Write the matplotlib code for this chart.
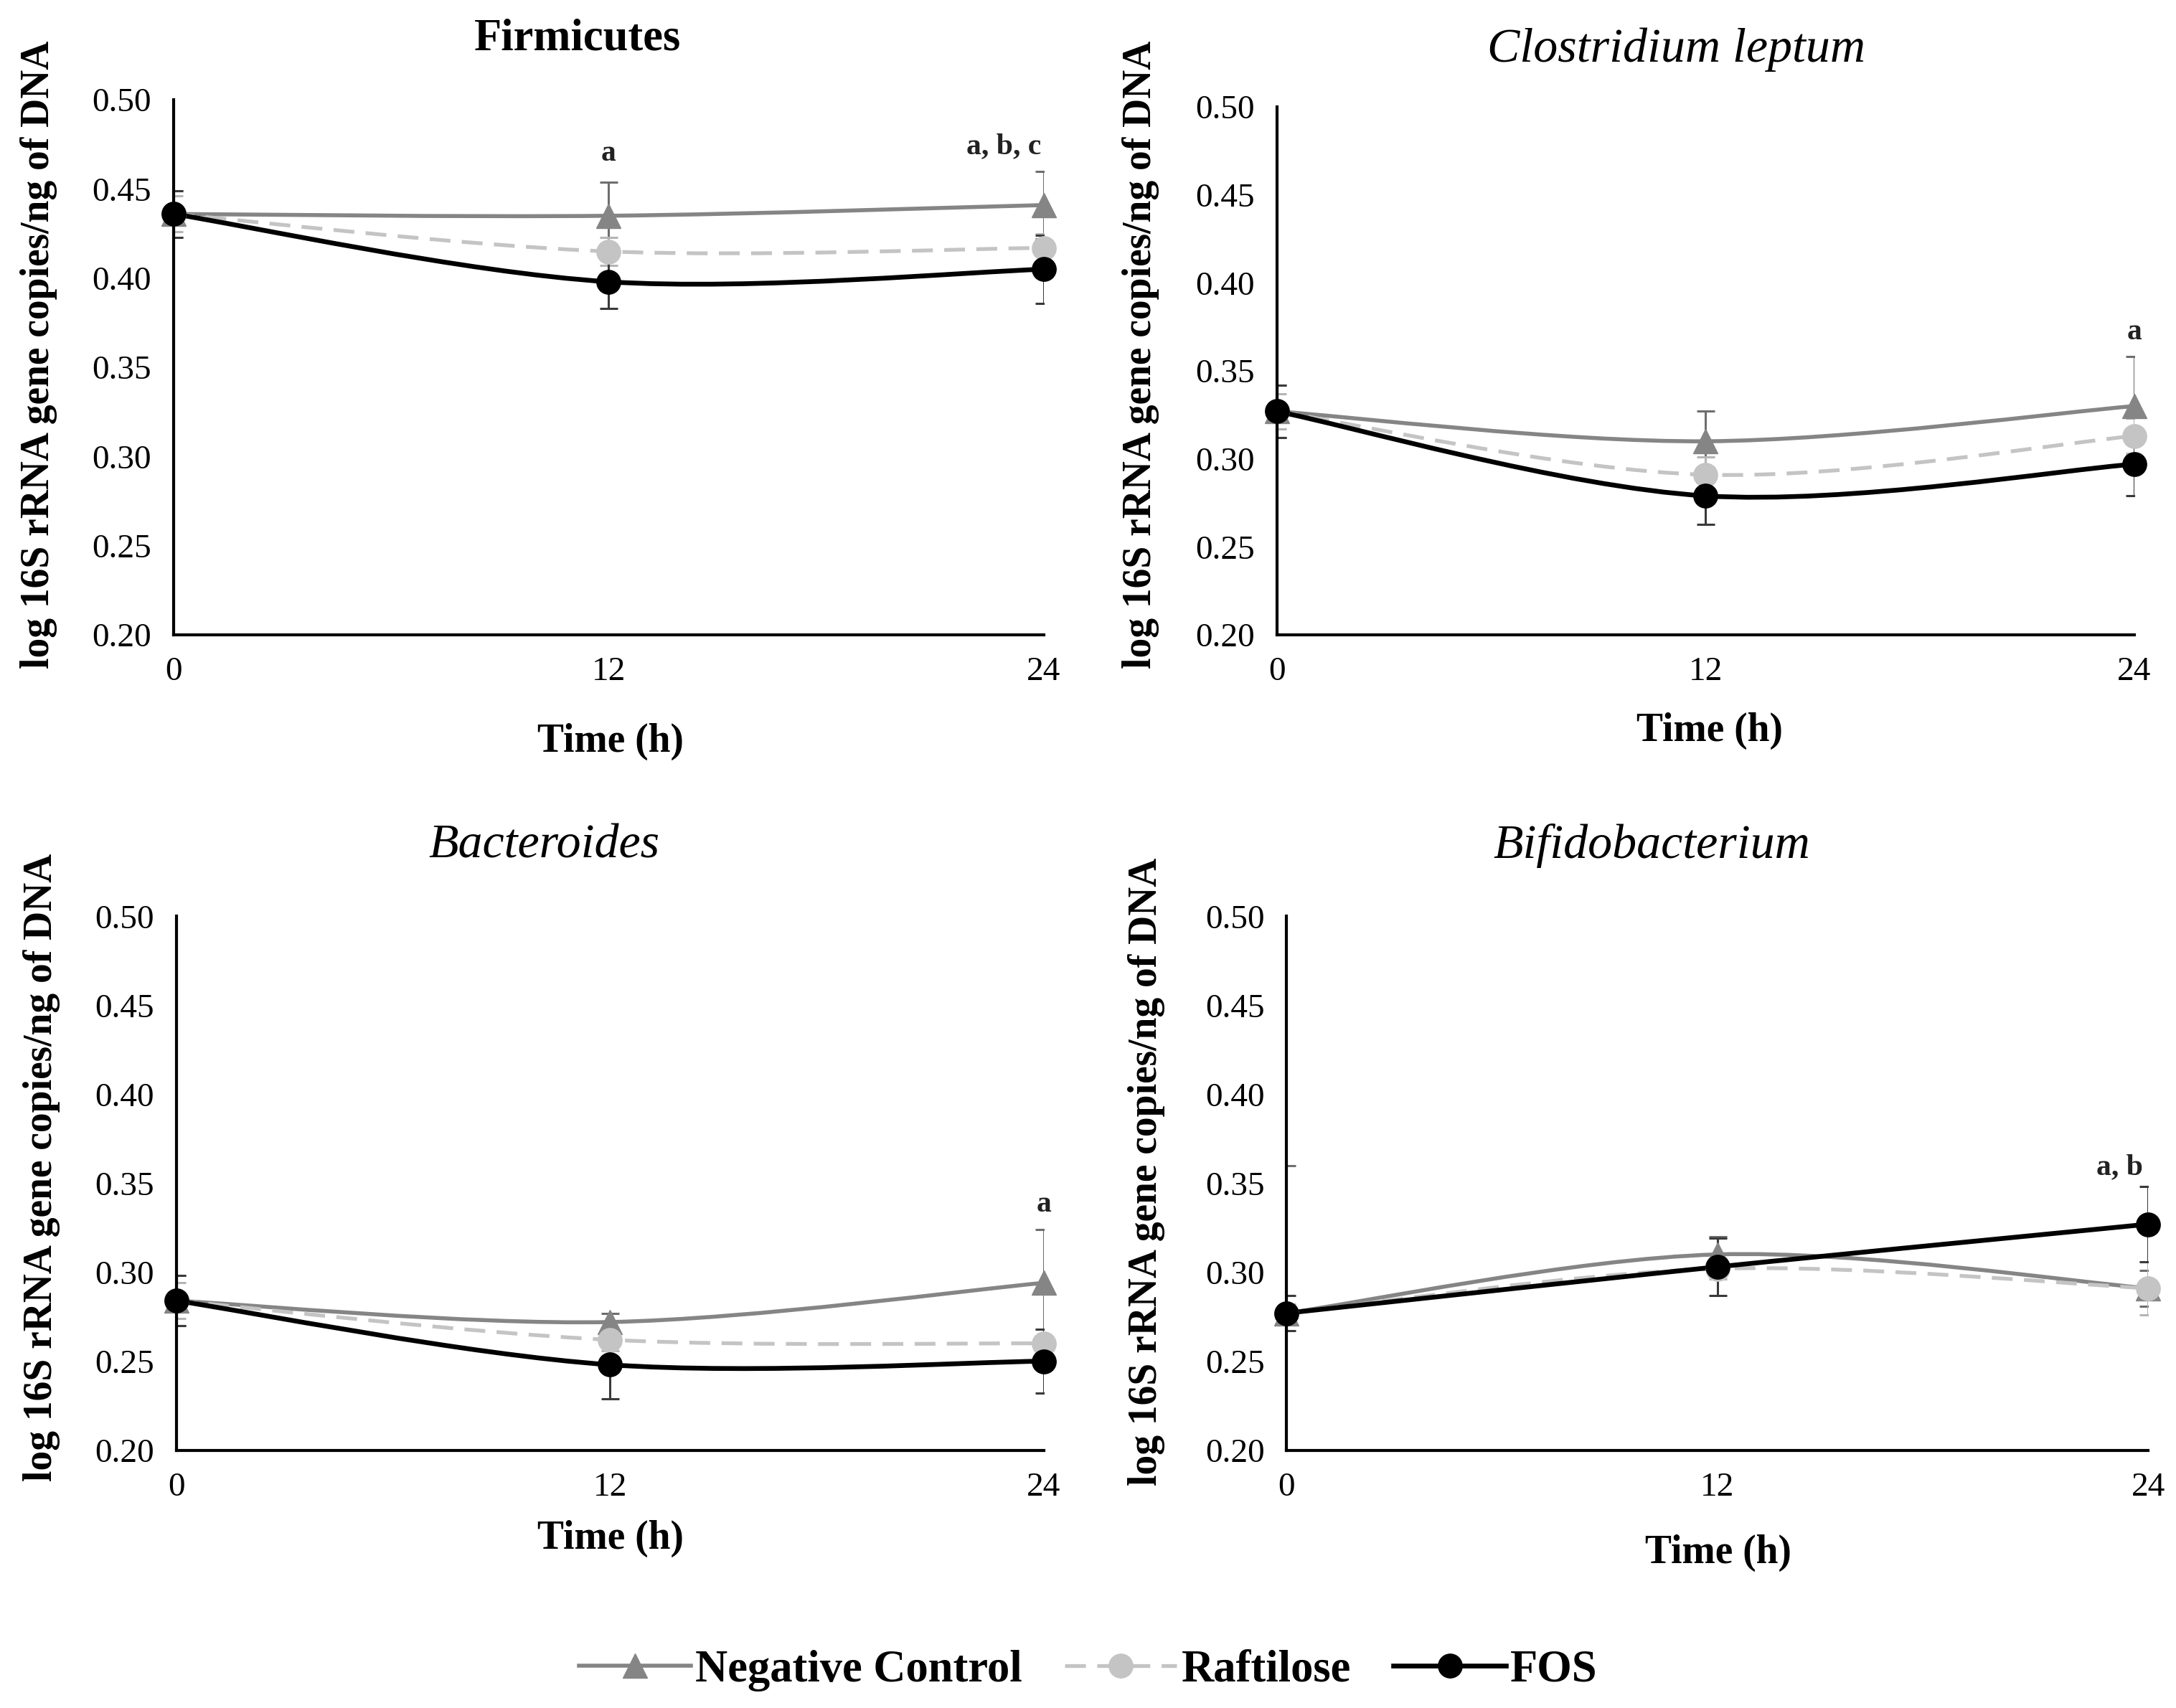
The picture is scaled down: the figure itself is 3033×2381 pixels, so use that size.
"""
Four-panel qPCR time course (log 16S rRNA gene copies / ng DNA)
for Negative Control, Raftilose and FOS, Excel-style smoothed lines.
"""

import numpy as np
import matplotlib
matplotlib.use("Agg")
import matplotlib.pyplot as plt
from matplotlib.path import Path
from matplotlib.patches import PathPatch
from matplotlib.lines import Line2D


# ----------------------------------------------------------------------
# Data
# ----------------------------------------------------------------------

TIME_H = [0, 12, 24]
PANEL_TITLES = ["Firmicutes", "Clostridium leptum", "Bacteroides", "Bifidobacterium"]
TITLE_ITALIC = [False, True, True, True]

NEG_CONTROL = [
    [0.436, 0.435, 0.441],
    [0.327, 0.310, 0.330],
    [0.284, 0.272, 0.294],
    [0.277, 0.310, 0.291],
]
NEG_CONTROL_ERR = [
    [0.013, 0.019, 0.019],
    [0.015, 0.017, 0.028],
    [0.014, 0.005, 0.030],
    [0.083, 0.010, 0.010],
]
RAFTILOSE = [
    [0.436, 0.415, 0.417],
    [0.327, 0.291, 0.313],
    [0.284, 0.262, 0.260],
    [0.277, 0.302, 0.291],
]
RAFTILOSE_ERR = [
    [0.010, 0.008, 0.008],
    [0.010, 0.010, 0.010],
    [0.010, 0.006, 0.008],
    [0.005, 0.006, 0.015],
]
FOS = [
    [0.436, 0.398, 0.405],
    [0.327, 0.279, 0.297],
    [0.284, 0.248, 0.250],
    [0.277, 0.303, 0.327],
]
FOS_ERR = [
    [0.013, 0.015, 0.019],
    [0.015, 0.016, 0.018],
    [0.014, 0.019, 0.018],
    [0.010, 0.016, 0.021],
]

# significance letters: (text, time, y)
SIG_LABELS = [
    [("a", 12, 0.470), ("a, b, c", 22.9, 0.474)],
    [("a", 24, 0.372)],
    [("a", 24, 0.338)],
    [("a, b", 23.2, 0.359)],
]

Y_TICKS = [0.20, 0.25, 0.30, 0.35, 0.40, 0.45, 0.50]
SERIES_NAMES = ["Negative Control", "Raftilose", "FOS"]


# ----------------------------------------------------------------------
# Layout (figure fractions, measured on the reference)
# ----------------------------------------------------------------------

W, H = 1568.0, 1232.0   # reference measured in these units

AX_BOXES = [  # left, right, top, bottom
    (125, 752, 72, 458),
    (920, 1538, 77, 458),
    (127, 752, 661, 1046),
    (927, 1548, 661, 1046),
]
TITLE_POS = [(416, 28), (1208, 36), (392, 610), (1190, 610)]
XLABEL_POS = [(440, 535), (1232, 527), (440, 1110), (1238, 1120)]
YLABEL_POS = [(28, 256), (822, 256), (30, 842), (826, 845)]

STYLE = {
    "Negative Control": dict(color="#858585", ls="-", lw=4.0, marker="^", ecolor="#6e6e6e"),
    "Raftilose": dict(color="#c4c4c4", ls=(0, (5.5, 3.0)), lw=3.8, marker="o", ecolor="#b5b5b5"),
    "FOS": dict(color="#000000", ls="-", lw=4.8, marker="o", ecolor="#3a3a3a"),
}

SERIF = ["Liberation Serif", "DejaVu Serif"]
plt.rcParams["font.family"] = SERIF


def smooth_path(x, y):
    """Excel-like smoothed line: cubic Bezier through each point."""
    pts = np.column_stack([x, y]).astype(float)
    n = len(pts)
    verts = [pts[0]]
    codes = [Path.MOVETO]
    for i in range(n - 1):
        p0 = pts[i - 1] if i > 0 else pts[i]
        p1 = pts[i]
        p2 = pts[i + 1]
        p3 = pts[i + 2] if i + 2 < n else pts[i + 1]
        c1 = p1 + (p2 - p0) / 6.0
        c2 = p2 - (p3 - p1) / 6.0
        verts += [c1, c2, p2]
        codes += [Path.CURVE4] * 3
    return Path(verts, codes)


def draw_panel(ax, k):
    series = [
        ("Negative Control", NEG_CONTROL[k], NEG_CONTROL_ERR[k]),
        ("Raftilose", RAFTILOSE[k], RAFTILOSE_ERR[k]),
        ("FOS", FOS[k], FOS_ERR[k]),
    ]
    # error bars first (clipped at the plot area, like Excel)
    for name, vals, errs in series:
        st = STYLE[name]
        ax.errorbar(TIME_H, vals, yerr=errs, fmt="none", ecolor=st["ecolor"],
                    elinewidth=2.2, capsize=9, capthick=2.2, zorder=2)
    for name, vals, errs in series:
        st = STYLE[name]
        patch = PathPatch(smooth_path(TIME_H, vals), facecolor="none",
                          edgecolor=st["color"], lw=st["lw"],
                          linestyle=st["ls"], capstyle="butt", zorder=3)
        ax.add_patch(patch)
        ax.plot(TIME_H, vals, linestyle="none", marker=st["marker"],
                markersize=24, color=st["color"], clip_on=False, zorder=4)

    for txt, xx, yy in SIG_LABELS[k]:
        ax.text(xx, yy, txt, ha="center", va="center", fontsize=30,
                fontweight="bold", color="#222222")

    ax.set_xlim(0, 24)
    ax.set_ylim(0.20, 0.50)
    ax.set_xticks(TIME_H)
    ax.set_xticklabels([str(t) for t in TIME_H])
    ax.set_yticks(Y_TICKS)
    ax.set_yticklabels([f"{v:.2f}" for v in Y_TICKS])
    ax.tick_params(axis="both", length=0, labelsize=34)
    ax.tick_params(axis="y", pad=22)
    ax.tick_params(axis="x", pad=22)
    for side in ("top", "right"):
        ax.spines[side].set_visible(False)
    for side in ("left", "bottom"):
        ax.spines[side].set_linewidth(3.0)
        ax.spines[side].set_color("black")
        ax.spines[side].set_zorder(5)


def main():
    fig = plt.figure(figsize=(30.33, 23.81), dpi=100)

    for k in range(4):
        l, r, t, b = AX_BOXES[k]
        ax = fig.add_axes([l / W, 1 - b / H, (r - l) / W, (b - t) / H])
        draw_panel(ax, k)

        tx, ty = TITLE_POS[k]
        if TITLE_ITALIC[k]:
            fig.text(tx / W, 1 - ty / H, PANEL_TITLES[k], ha="center", va="center",
                     fontsize=49, style="italic")
        else:
            fig.text(tx / W, 1 - ty / H, PANEL_TITLES[k], ha="center", va="center",
                     fontsize=45, fontweight="bold")

        xx, xy = XLABEL_POS[k]
        fig.text(xx / W, 1 - xy / H, "Time (h)", ha="center", va="center",
                 fontsize=40, fontweight="bold")
        yx, yy = YLABEL_POS[k]
        fig.text(yx / W, 1 - yy / H, "log 16S rRNA gene copies/ng of DNA",
                 ha="center", va="center", rotation=90, fontsize=40,
                 fontweight="bold")

    handles = []
    for name in SERIES_NAMES:
        st = STYLE[name]
        handles.append(Line2D([], [], color=st["color"], lw=st["lw"],
                              linestyle=st["ls"], marker=st["marker"],
                              markersize=24))
    fig.legend(handles, SERIES_NAMES, loc="center", bbox_to_anchor=(0.5, 1 - 1205 / H),
               ncol=3, frameon=False, handlelength=2.5, columnspacing=0.95,
               handletextpad=0.1, prop={"family": SERIF, "weight": "bold", "size": 45})

    fig.savefig("out.png", dpi=100)


if __name__ == "__main__":
    main()
